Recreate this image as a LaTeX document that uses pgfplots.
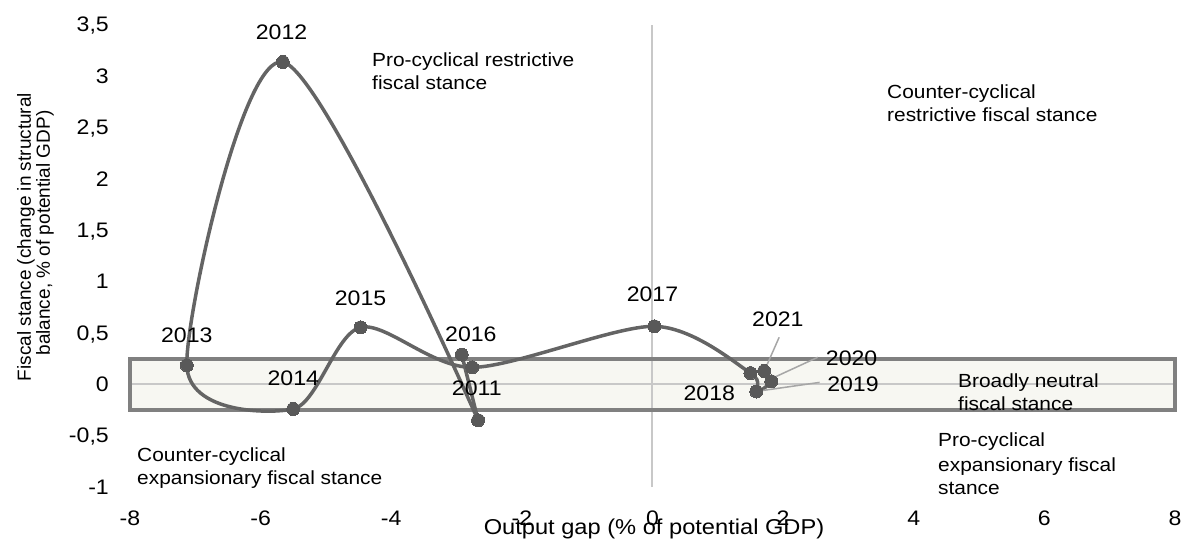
\documentclass[border=0pt]{standalone}
\usepackage{pgfplots}
\usepackage{pgfplotstable}
\pgfplotsset{compat=1.18}
\usepackage{fontspec}
\setmainfont{Liberation Sans}[FakeStretch=1.1]
\newfontfamily\ylabfont{Liberation Sans}
\definecolor{curvec}{RGB}{100,100,100}
\definecolor{markc}{RGB}{89,89,89}
\definecolor{boxfill}{RGB}{247,247,242}
\definecolor{boxdraw}{RGB}{128,128,128}
\definecolor{zeroc}{RGB}{200,200,200}
\definecolor{leadc}{RGB}{166,166,166}
% main series (2011 -> 2021), smoothed
\pgfplotstableread{
x y
-2.67 -0.35
-5.66 3.14
-7.13 0.185
-5.50 -0.24
-4.47 0.555
-2.76 0.165
0.03 0.565
1.50 0.11
1.59 -0.07
1.82 0.03
1.71 0.13
}\fiscal
% 2016 point and its link to 2011
\pgfplotstableread{
x y
-2.92 0.29
-2.67 -0.35
}\linkseg
\newcommand\lbl{\fontsize{21pt}{25pt}\selectfont}
\newcommand\ann{\fontsize{19pt}{23pt}\selectfont}
\begin{document}
\begin{tikzpicture}[font=\ann]
\begin{scope}[shift={(-130pt,487pt)},x=1pt,y=-1pt]
\path[use as bounding box] (0,0) rectangle (1184,541);
\end{scope}
\begin{axis}[
  at={(0,0)}, anchor=south west,
  scale only axis, width=1045pt, height=462pt,
  xmin=-8, xmax=8, ymin=-1, ymax=3.5,
  axis line style={draw=none},
  major tick length=0pt,
  clip=false,
  xtick={-8,-6,-4,-2,0,2,4,6,8},
  xticklabels={-8,-6,-4,-2,0,2,4,6,8},
  ytick={-1,-0.5,0,0.5,1,1.5,2,2.5,3,3.5},
  yticklabels={-1,{-0,5},0,{0,5},1,{1,5},2,{2,5},3,{3,5}},
  xticklabel style={anchor=base, inner sep=0pt, yshift=-38pt, font=\lbl},
  yticklabel style={anchor=base east, inner sep=0pt, xshift=-21pt, yshift=-7pt, font=\lbl},
  /pgf/number format/assume math mode=true,
]
\fill[boxfill] (axis cs:-8,-0.25) rectangle (axis cs:8,0.25);
\draw[zeroc, line width=2pt] (axis cs:-8,0) -- (axis cs:8,0);
\draw[zeroc, line width=2pt] (axis cs:0,-1) -- (axis cs:0,3.5);
\draw[boxdraw, line width=4pt] (axis cs:-8,-0.25) rectangle (axis cs:8,0.25);
\addplot[curvec, line width=3.5pt, mark=*, mark size=6.5pt,
  mark options={fill=markc, draw=markc, line width=0pt}] table[x=x,y=y] {\linkseg};
\addplot[curvec, line width=3.5pt, smooth, mark=*, mark size=6.5pt,
  mark options={fill=markc, draw=markc, line width=0pt}] table[x=x,y=y] {\fiscal};
\draw[leadc, line width=1.5pt] (axis cs:1.94,0.458) -- (axis cs:1.71,0.127);
\draw[leadc, line width=1.5pt] (axis cs:2.53,0.263) -- (axis cs:1.80,0.049);
\draw[leadc, line width=1.5pt] (axis cs:2.56,0.019) -- (axis cs:1.60,-0.068);
\begin{scope}[every node/.style={inner sep=0pt, anchor=center, font=\lbl}]
\node at (axis cs:-5.68,3.43) {2012};
\node at (axis cs:-7.13,0.48) {2013};
\node at (axis cs:-5.50,0.063) {2014};
\node at (axis cs:-4.47,0.84) {2015};
\node at (axis cs:-2.78,0.487) {2016};
\node at (axis cs:-2.69,-0.034) {2011};
\node at (axis cs:0.0,0.876) {2017};
\node at (axis cs:1.92,0.633) {2021};
\node at (axis cs:3.05,0.253) {2020};
\node at (axis cs:3.07,0.0) {2019};
\node at (axis cs:0.87,-0.088) {2018};
\end{scope}
\end{axis}
\begin{scope}[shift={(-130pt,487pt)},x=1pt,y=-1pt, every node/.style={inner sep=0pt, anchor=base west}]
\node at (372,67) {Pro-cyclical restrictive};
\node at (372,90) {fiscal stance};
\node at (887,99) {Counter-cyclical};
\node at (887,122) {restrictive fiscal stance};
\node at (958,388) {Broadly neutral};
\node at (958,411) {fiscal stance};
\node at (938,447) {Pro-cyclical};
\node at (938,471) {expansionary fiscal};
\node at (938,494) {stance};
\node at (137,462) {Counter-cyclical};
\node at (137,485) {expansionary fiscal stance};
\node[anchor=base, font=\fontsize{21.5pt}{25pt}\selectfont] at (654,534) {Output gap (\% of potential GDP)};
\node[anchor=base, rotate=90, font=\ylabfont\fontsize{19pt}{23pt}\selectfont] at (31,237) {Fiscal stance (change in structural};
\node[anchor=base, rotate=90, font=\ylabfont\fontsize{19pt}{23pt}\selectfont] at (50,233) {balance, \% of potential GDP)};
\end{scope}
\end{tikzpicture}
\end{document}
